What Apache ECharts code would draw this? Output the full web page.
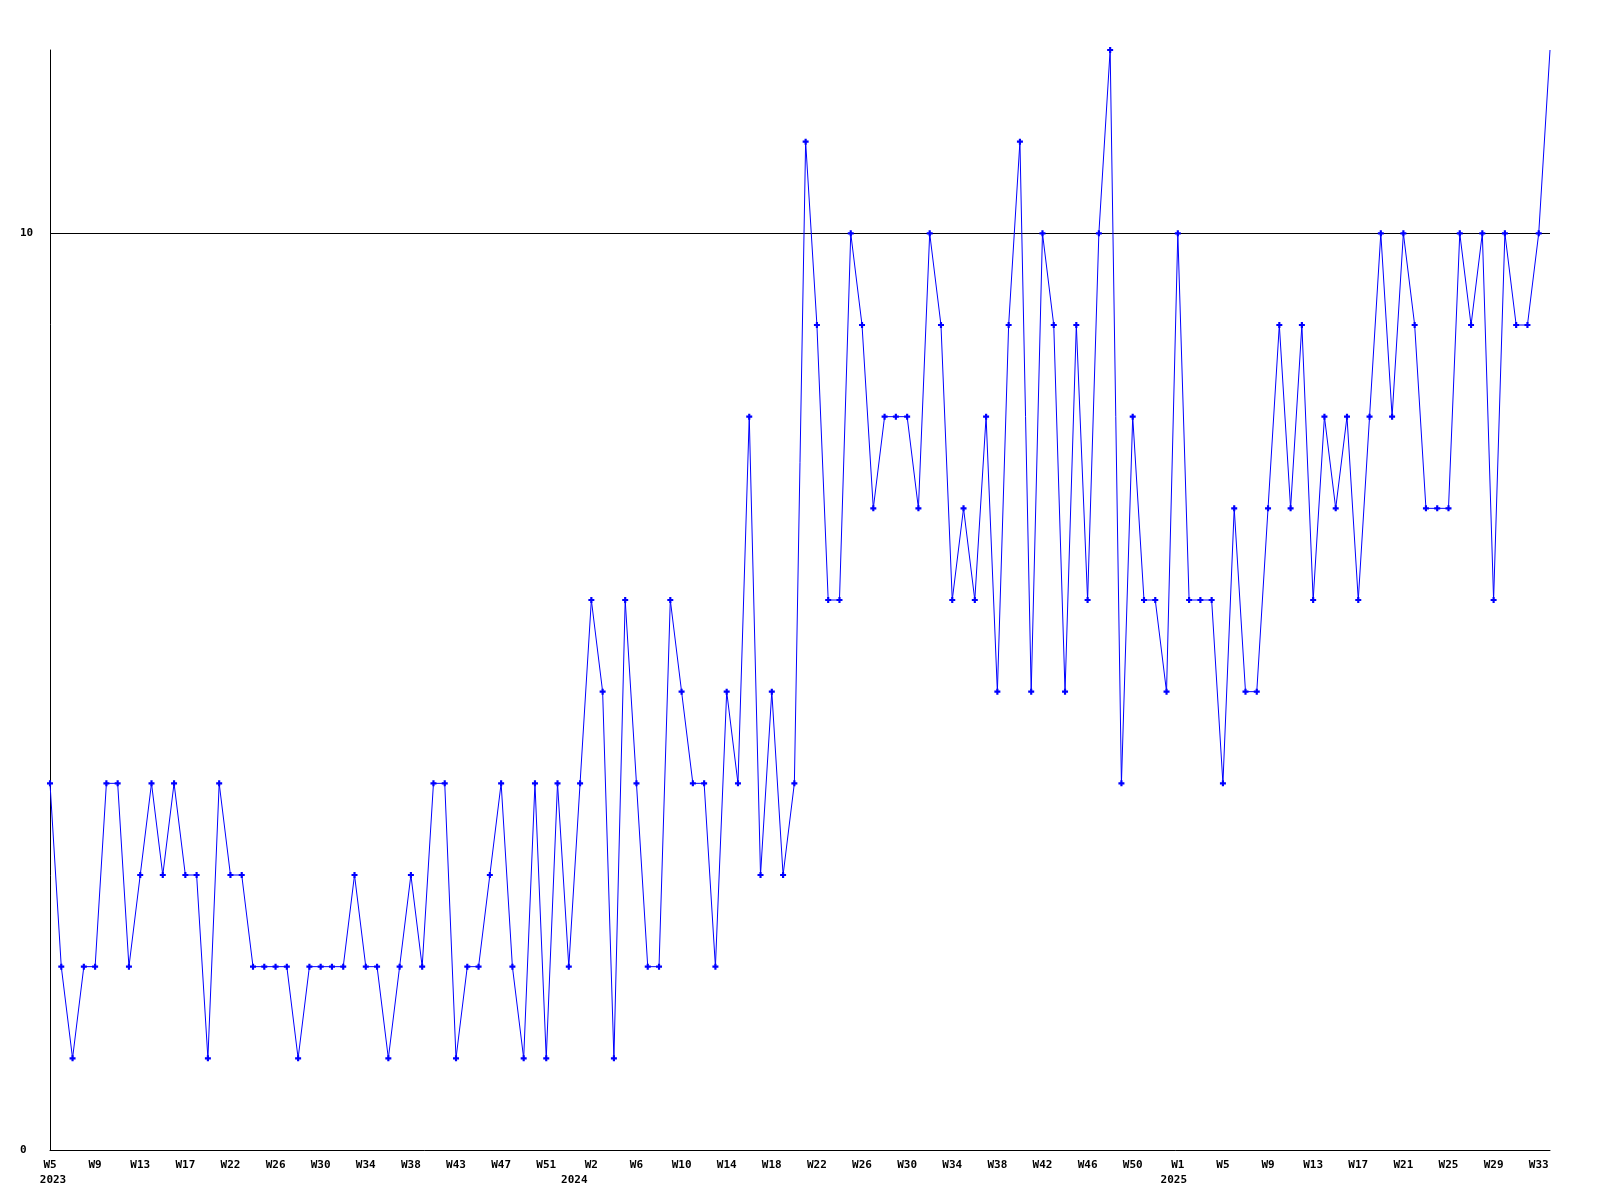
<!DOCTYPE html>
<html>
<head>
<meta charset="utf-8">
<script src="https://cdn.jsdelivr.net/npm/echarts@6/dist/echarts.min.js"></script>
<style>
html,body{margin:0;padding:0;background:#fff;}
#chart{width:1600px;height:1200px;}
</style>
</head>
<body>
<div id="chart"></div>
<script>
// Week categories (x axis)
var weeks = [
  'W5','W6','W7','W8','W9','W10','W11','W12','W13','W14','W15','W16','W17','W18','W19','W20',
  'W22','W23','W24','W25','W26','W27','W28','W29','W30','W31','W32','W33','W34','W35','W36','W37',
  'W38','W39','W40','W41','W43','W44','W45','W46','W47','W48','W49','W50','W51','W52','W53','W1',
  'W2','W3','W4','W5','W6','W7','W8','W9','W10','W11','W12','W13','W14','W15','W16','W17',
  'W18','W19','W20','W21','W22','W23','W24','W25','W26','W27','W28','W29','W30','W31','W32','W33',
  'W34','W35','W36','W37','W38','W39','W40','W41','W42','W43','W44','W45','W46','W47','W48','W49',
  'W50','W51','W52','W53','W1','W2','W3','W4','W5','W6','W7','W8','W9','W10','W11','W12',
  'W13','W14','W15','W16','W17','W18','W19','W20','W21','W22','W23','W24','W25','W26','W27','W28',
  'W29','W30','W31','W32','W33','W34'
];
// Year labels placed under these category indices
var yearIndex = [0, 48, 100];
var yearNames = ['2023', '2024', '2025'];

// Weekly values
var values = [
  4,2,1,2,2,4,4,2,3,4,3,4,3,3,1,4,
  3,3,2,2,2,2,1,2,2,2,2,3,2,2,1,2,
  3,2,4,4,1,2,2,3,4,2,1,4,1,4,2,4,
  6,5,1,6,4,2,2,6,5,4,4,2,5,4,8,3,
  5,3,4,11,9,6,6,10,9,7,8,8,8,7,10,9,
  6,7,6,8,5,9,11,5,10,9,5,9,6,10,12,4,
  8,6,6,5,10,6,6,6,4,7,5,5,7,9,7,9,
  6,8,7,8,6,8,10,8,10,9,7,7,7,10,9,10,
  6,10,9,9,10,12
];

// Y axis labelled values and threshold line
var yLabels = [0, 10];

var chart = echarts.init(document.getElementById('chart'), null, {renderer: 'canvas'});
var font = '"DejaVu Sans Mono", monospace';

var seriesData = values.map(function (v, i) {
  if (i === values.length - 1) return {value: v, symbol: 'none'};
  return v;
});

var yearStyles = ['y0', 'y1', 'y2'];

chart.setOption({
  backgroundColor: '#ffffff',
  animation: false,
  grid: {left: 50, right: 50, top: 50, bottom: 50, containLabel: false},
  xAxis: {
    type: 'category',
    data: weeks,
    boundaryGap: false,
    axisLine: {show: true, lineStyle: {color: '#000', width: 1}},
    axisTick: {show: false},
    splitLine: {show: false},
    axisLabel: {
      interval: 3,
      margin: 8,
      fontFamily: font,
      fontWeight: 'bold',
      fontSize: 11,
      lineHeight: 15,
      color: '#000',
      formatter: function (val, idx) {
        var k = yearIndex.indexOf(idx);
        return k >= 0 ? '{w|' + val + '}\n{' + yearStyles[k] + '|' + yearNames[k] + '}' : '{w|' + val + '}';
      },
      rich: {
        w: {fontFamily: font, fontWeight: 'bold', fontSize: 11, lineHeight: 15, color: '#000'},
        y0: {fontFamily: font, fontWeight: 'bold', fontSize: 11, lineHeight: 15, color: '#000', padding: [0, 0, 0, 6]},
        y1: {fontFamily: font, fontWeight: 'bold', fontSize: 11, lineHeight: 15, color: '#000', padding: [0, 34, 0, 0]},
        y2: {fontFamily: font, fontWeight: 'bold', fontSize: 11, lineHeight: 15, color: '#000', padding: [0, 8, 0, 0]}
      }
    }
  },
  yAxis: {
    type: 'value',
    min: 0,
    max: 12,
    interval: 10,
    axisLine: {show: true, lineStyle: {color: '#000', width: 1}},
    axisTick: {show: false},
    splitLine: {show: true, lineStyle: {color: ['rgba(0,0,0,0)', '#000', 'rgba(0,0,0,0)'], width: 1}},
    axisLabel: {
      margin: 30,
      align: 'left',
      fontFamily: font,
      fontWeight: 'bold',
      fontSize: 11,
      color: '#000',
      formatter: function (v) { return yLabels.indexOf(v) >= 0 ? String(v) : ''; }
    }
  },
  series: [{
    type: 'line',
    data: seriesData,
    symbol: 'path://M1.6,0H3.4V1.6H5V3.4H3.4V5H1.6V3.4H0V1.6H1.6Z',
    symbolSize: 6,
    showAllSymbol: true,
    lineStyle: {color: '#0000ff', width: 1},
    itemStyle: {color: '#0000ff'},
    clip: true
  }]
});
</script>
</body>
</html>
